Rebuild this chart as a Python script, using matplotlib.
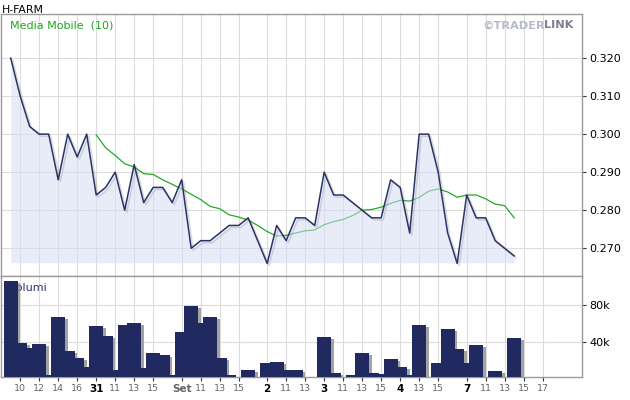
import numpy as np
import pandas as pd
import matplotlib
matplotlib.use('Agg')
import matplotlib.pyplot as plt
import matplotlib.patheffects as pe

# prezzi orari (chiusure)
prezzo = [0.320, 0.310, 0.302, 0.300, 0.300, 0.288, 0.300, 0.294, 0.300, 0.284,
          0.286, 0.290, 0.280, 0.292, 0.282, 0.286, 0.286, 0.282, 0.288, 0.270,
          0.272, 0.272, 0.274, 0.276, 0.276, 0.278, 0.272, 0.266, 0.276, 0.272,
          0.278, 0.278, 0.276, 0.290, 0.284, 0.284, 0.282, 0.280, 0.278, 0.278,
          0.288, 0.286, 0.274, 0.300, 0.300, 0.290, 0.274, 0.266, 0.284, 0.278,
          0.278, 0.272, 0.270, 0.268]

# volumi (migliaia di pezzi)
volumi_k = [105.7, 39.6, 34.2, 38.5, 4.9, 67.0, 30.7, 23.2, 13.5, 57.5,
            46.8, 10.6, 58.6, 60.7, 12.4, 28.5, 26.4, 4.9, 51.0, 79.0,
            60.7, 67.0, 23.2, 4.9, 2.0, 10.3, 0.0, 17.8, 18.9, 10.3,
            10.3, 2.0, 0.0, 45.7, 7.1, 0.0, 4.9, 28.5, 7.1, 6.0,
            22.0, 13.5, 4.9, 58.6, 0.0, 17.8, 54.3, 32.8, 17.8, 37.1,
            0.0, 9.2, 0.0, 44.6]

tick_pos = [1, 3, 5, 7, 9, 11, 13, 15, 18, 20, 22, 24, 27, 29, 31,
            33, 35, 37, 39, 41, 43, 45, 48, 50, 52, 54, 56]
tick_lab = ['10', '12', '14', '16', '31', '11', '13', '15', 'Set', '11', '13', '15',
            '2', '11', '13', '3', '11', '13', '15', '4', '13', '15', '7', '11',
            '13', '15', '17']
giorni = ['31', 'Set', '2', '3', '4', '7']

prezzo_ticks = [0.270, 0.280, 0.290, 0.300, 0.310, 0.320]
vol_ticks = [40, 80]

x = np.arange(len(prezzo))
media = pd.Series(prezzo).rolling(10).mean()  # media mobile a 10 periodi
volumi = np.array(volumi_k) * 1000

W, H = 630, 400
fig = plt.figure(figsize=(W / 100, H / 100), dpi=100)
ax = fig.add_axes([0.5 / W, 1 - 276 / H, 581.5 / W, 262 / H])
axv = fig.add_axes([0.5 / W, 1 - 377.3 / H, 581.5 / W, 101.3 / H], sharex=ax)

griglia = '#dcdcdc'
bordo = '#9a9a9a'

# pannello prezzi
ax.plot(x, media, color='#22aa22', lw=0.9, zorder=1.5)
ax.fill_between(x, prezzo, 0.2662, color='#d6def5', alpha=0.55, lw=0, zorder=2)
ax.plot(x, prezzo, color='#2a3366', lw=1.1, zorder=3,
        path_effects=[pe.SimpleLineShadow(offset=(1.5, -1.5), shadow_color='#777777', alpha=0.25),
                      pe.Normal()])

ax.set_xlim(-1.074, 60.14)
ax.set_ylim(0.26271, 0.33158)
ax.yaxis.tick_right()
ax.set_yticks(prezzo_ticks)
ax.set_yticklabels([f'{v:.3f}' for v in prezzo_ticks])
ax.tick_params(axis='y', direction='out', length=3, width=0.8, color='#333333',
               labelsize=8, pad=2)
ax.tick_params(axis='x', bottom=False, labelbottom=False)
ax.grid(True, color=griglia, lw=0.8)
ax.set_axisbelow(True)

# pannello volumi
axv.bar(x, volumi, width=1.45, color='#202a60', zorder=3,
        path_effects=[pe.SimplePatchShadow(offset=(2, -1.5), shadow_rgbFace='#8c8c8c', alpha=0.8),
                      pe.Normal()])
axv.set_ylim(2470, 111100)
axv.yaxis.tick_right()
axv.set_yticks([v * 1000 for v in vol_ticks])
axv.set_yticklabels([f'{v}k' for v in vol_ticks])
axv.tick_params(axis='y', direction='out', length=3, width=0.8, color='#333333',
                labelsize=8, pad=2)
axv.set_xticks(tick_pos)
axv.set_xticklabels(tick_lab)
axv.tick_params(axis='x', direction='out', length=3, width=0.8, color='#333333',
                labelsize=6.8, pad=2, labelcolor='#666666')
for t in axv.get_xticklabels():
    if t.get_text() in giorni:
        t.set_fontweight('bold')
        t.set_fontsize(7.5)
        t.set_color('#666666' if t.get_text() == 'Set' else 'black')
axv.grid(True, color=griglia, lw=0.8)
axv.set_axisbelow(True)

for a in (ax, axv):
    for s in a.spines.values():
        s.set_color(bordo)
        s.set_linewidth(1)

axv.text(9.5 / W, 1 - 290.7 / H, 'Volumi', transform=fig.transFigure, fontsize=8,
         color='#2b3370', va='baseline', zorder=2)

# testi
fig.text(1.5 / W, 1 - 12.7 / H, 'H-FARM', fontsize=7.8, color='black', va='baseline')
fig.text(10.5 / W, 1 - 29 / H, 'Media Mobile  (10)', fontsize=8, color='#1fa51f', va='baseline')
# marchio in due colori, "LINK" attaccato a "©TRADER"
t_trader = fig.text(482 / W, 1 - 28.3 / H, '©TRADER', fontsize=8.2, fontweight='bold',
                    color='#b6bacb', va='baseline', ha='left')
fig.canvas.draw()
bb = t_trader.get_window_extent()
fig.text((bb.x1 - 1) / W, 1 - 28.3 / H, 'LINK', fontsize=8.2, fontweight='bold',
         color='#7c8092', va='baseline', ha='left')

fig.savefig('out.png', dpi=100)
